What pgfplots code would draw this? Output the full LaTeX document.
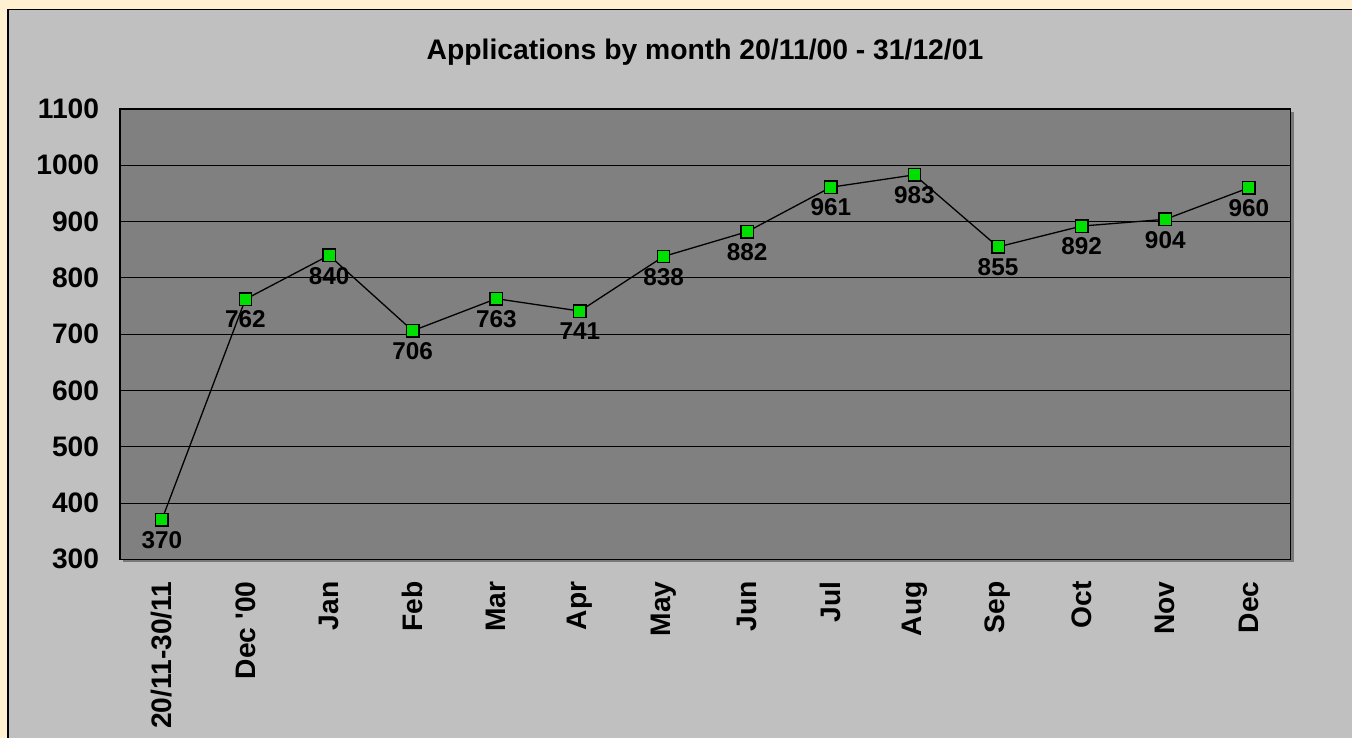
\documentclass[border=0pt]{standalone}
\usepackage{pgfplots}
\pgfplotsset{compat=1.18}
\usepackage{fontspec}
\setmainfont{Liberation Sans}
\definecolor{cream}{HTML}{FFF0D2}
\definecolor{chartgray}{HTML}{C0C0C0}
\definecolor{plotgray}{HTML}{808080}
\definecolor{shadowgray}{HTML}{787878}
\definecolor{markgreen}{HTML}{00E000}
\begin{document}
\begin{tikzpicture}
\useasboundingbox (0bp,0bp) rectangle (1352bp,738bp);
\clip (0bp,0bp) rectangle (1352bp,738bp);
\fill[cream] (0bp,0bp) rectangle (1352bp,738bp);
\draw[line width=1.5bp, fill=chartgray] (8bp,-10bp) rectangle (1370bp,728.5bp);
\fill[shadowgray] (122.5bp,176bp) rectangle (1293.5bp,626bp);
\node[anchor=base, font=\bfseries\fontsize{28.4}{32}\selectfont] at (705bp,678.5bp) {Applications by month 20/11/00 - 31/12/01};
\begin{axis}[
  at={(120bp,178.7bp)}, anchor=south west,
  scale only axis, width=1170.7bp, height=450.3bp,
  xmin=-0.5, xmax=13.5, ymin=300, ymax=1100,
  xtick={0,...,13},
  xticklabels={20/11-30/11, Dec \textquotesingle00, Jan, Feb, Mar, Apr, May, Jun, Jul, Aug, Sep, Oct, Nov, Dec},
  ytick={300,400,...,1100},
  ymajorgrids, grid style={black, line width=1bp},
  axis line style={black, line width=1.5bp},
  major tick length=0pt,
  axis background/.style={fill=plotgray},
  tick label style={font=\bfseries\fontsize{28.3}{30}\selectfont, inner sep=0pt},
  xticklabel style={rotate=90, anchor=east},
  xticklabel shift=22bp, yticklabel shift=20.7bp,
  /pgf/number format/1000 sep={},
  /pgf/number format/assume math mode=true,
  clip=false,
]
\addplot[black, line width=1.3bp, mark=square*, mark size=6.2bp,
  mark options={fill=markgreen, draw=black, line width=1.4bp},
  nodes near coords,
  nodes near coords style={anchor=north, inner sep=0pt, yshift=-11bp, font=\bfseries\fontsize{24.4}{26}\selectfont, text=black}]
coordinates {
(0,370) (1,762) (2,840) (3,706) (4,763) (5,741) (6,838) (7,882) (8,961) (9,983) (10,855) (11,892) (12,904) (13,960)
};
\end{axis}
\end{tikzpicture}
\end{document}
